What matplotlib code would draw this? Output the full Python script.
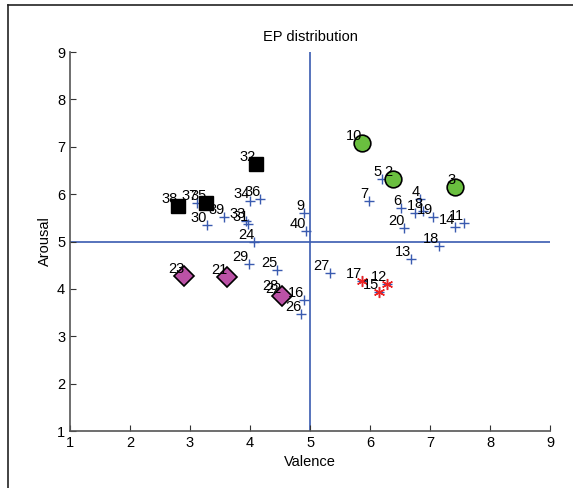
import numpy as np
import matplotlib.pyplot as plt
from matplotlib.lines import Line2D

plt.rcParams['font.family'] = ['Liberation Sans', 'DejaVu Sans']

# Valence / arousal of each EP, numbered 1..40
ids = list(range(1, 41))
valence = [6.75, 6.38, 7.42, 6.83, 6.20, 6.52, 5.98, 6.88, 4.90, 5.87,
           7.57, 6.28, 6.68, 7.42, 6.15, 4.90, 5.87, 7.15, 7.05, 6.57,
           3.62, 4.53, 2.90, 4.07, 4.45, 4.85, 5.33, 4.47, 3.98, 3.28,
           3.97, 4.10, 3.93, 4.00, 3.27, 4.17, 3.12, 2.80, 3.57, 4.93]
arousal = [5.60, 6.32, 6.15, 5.90, 6.32, 5.71, 5.85, 5.64, 5.60, 7.08,
           5.39, 4.10, 4.63, 5.31, 3.93, 3.77, 4.17, 4.90, 5.52, 5.28,
           4.25, 3.85, 4.27, 4.99, 4.40, 3.47, 4.33, 3.91, 4.52, 5.35,
           5.37, 6.64, 5.43, 5.85, 5.81, 5.90, 5.81, 5.75, 5.52, 5.22]

# highlighted EPs per quadrant
green_ids = [10, 2, 3]
black_ids = [32, 38, 35]
purple_ids = [23, 21, 22]
red_ids = [17, 12, 15]

blue = '#3a5bb0'

fig = plt.figure(figsize=(5.73, 4.88), dpi=100)
ax = fig.add_axes([0.1222, 0.1168, 0.8377, 0.7766])

# outer frame (top and left edge only visible)
fig.add_artist(Line2D([8 / 573, 1.0], [1 - 5 / 488, 1 - 5 / 488], color='#222222', lw=1.2))
fig.add_artist(Line2D([8 / 573, 8 / 573], [0, 1 - 5 / 488], color='#222222', lw=1.2))

ax.axhline(5, color=blue, lw=1.2, zorder=1)
ax.axvline(5, color=blue, lw=1.2, zorder=1)

ax.plot(valence, arousal, '+', color=blue, ms=7, mew=1.0, zorder=2)

def pick(sel):
    return [valence[i - 1] for i in sel], [arousal[i - 1] for i in sel]

gx, gy = pick(green_ids)
ax.plot(gx, gy, 'o', mfc='#6abf3f', mec='black', ms=12, mew=1.2, zorder=3)
bx, by = pick(black_ids)
ax.plot(bx, by, 's', mfc='black', mec='black', ms=10, zorder=3)
px, py = pick(purple_ids)
ax.plot(px, py, 'D', mfc='#bb52a6', mec='black', ms=10.5, mew=1.2, zorder=3)
rx, ry = pick(red_ids)
ax.plot(rx, ry, marker=(6, 2, 0), ls='none', color='#ee2222', ms=8, mew=1.0, zorder=3)

for i, v, a in zip(ids, valence, arousal):
    ax.annotate(str(i), (v, a), xytext=(0, 2), textcoords='offset points',
                ha='right', va='baseline', fontsize=10.5, zorder=4)

ax.set_xlim(1, 9)
ax.set_ylim(1, 9)
ax.set_xticks(np.arange(1, 10))
ax.set_yticks(np.arange(1, 10))
ax.tick_params(direction='in', length=4, labelsize=10.5, colors='#333333', labelcolor='black')
for s in ['top', 'right']:
    ax.spines[s].set_visible(False)
for s in ['left', 'bottom']:
    ax.spines[s].set_color('#555555')
    ax.spines[s].set_linewidth(1.2)

ax.set_xlabel('Valence', fontsize=10.5)
ax.set_ylabel('Arousal', fontsize=10.5)
ax.set_title('EP distribution', fontsize=10.5, pad=8)

fig.savefig('out.png', dpi=100)
